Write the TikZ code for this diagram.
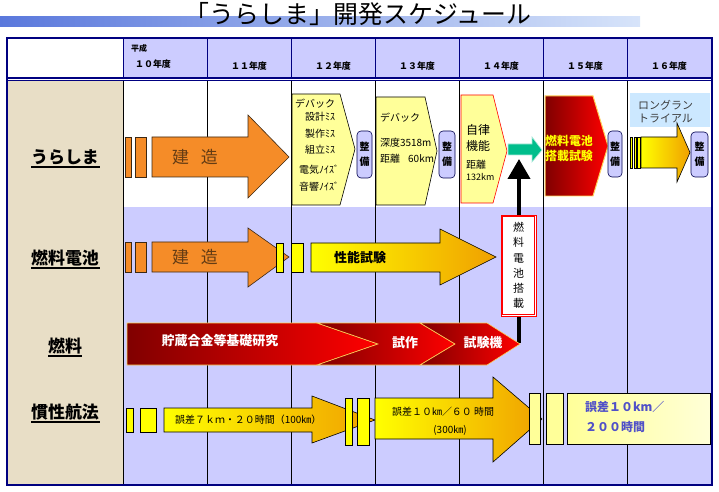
\documentclass[tikz,border=0pt]{standalone}
\usepackage{fontspec}
\setmainfont{Noto Sans CJK JP}
\usetikzlibrary{arrows.meta}
\definecolor{navyb}{RGB}{0,0,128}
\definecolor{lav}{RGB}{204,204,255}
\definecolor{parch}{RGB}{232,222,198}
\definecolor{orng}{RGB}{245,140,40}
\definecolor{paley}{RGB}{255,255,153}
\definecolor{paley2}{RGB}{255,255,215}
\definecolor{ylw}{RGB}{255,255,0}
\definecolor{amber}{RGB}{240,160,0}
\definecolor{dred}{RGB}{128,0,0}
\definecolor{brred}{RGB}{255,0,0}
\definecolor{tgreen}{RGB}{0,190,140}
\definecolor{lblue}{RGB}{204,232,255}
\definecolor{brownt}{RGB}{100,60,20}
\definecolor{bluet}{RGB}{80,80,200}
\definecolor{edgec}{RGB}{60,40,20}
\definecolor{goldl}{RGB}{255,210,90}
\definecolor{bandl}{RGB}{90,120,220}
\definecolor{bandr}{RGB}{215,228,250}
\definecolor{greyt}{RGB}{60,60,60}
\tikzset{
  fs/.style={inner sep=0, font=\fontsize{#1}{#1}\selectfont},
  lbl/.style={inner sep=0, font=\fontsize{17}{17}\selectfont\bfseries},
  hdr/.style={inner sep=0, font=\fontsize{9}{9}\selectfont\bfseries},
  txt/.style={inner sep=0, anchor=west, font=\fontsize{10}{10}\selectfont},
  orbar/.style={fill=orng, draw=edgec, line width=0.5},
  ybar/.style={fill=ylw, draw=black, line width=0.5},
  pbar/.style={fill=paley, draw=black, line width=0.5},
  orarrow/.style={fill=orng, draw=edgec, line width=0.6},
  grarrow/.style={left color=ylw, right color=amber, draw=black, line width=0.6},
  penta/.style={fill=paley, draw=black, line width=0.6},
  seibi/.style={fill=lav, draw=navyb!60!black, line width=0.6, rounded corners=4,
    inner sep=0, align=center, font=\fontsize{10}{15}\selectfont\bfseries},
  redseg/.style={left color=dred, right color=brred, draw=goldl, line width=0.6},
  wtxt/.style={inner sep=0, text=white, font=\fontsize{13}{13}\selectfont\bfseries},
  uline/.style={line width=1.2, draw=black},
}
\begin{document}
\begin{tikzpicture}[x=1bp,y=-1bp]
\useasboundingbox (0,0) rectangle (719,492);
% title
\shade[left color=bandl, right color=bandr] (0,17) rectangle (640,27);
\node[fs=25] (title) at (358,14) {「うらしま」開発スケジュール};
% table backgrounds
\fill[white] (8,38) rectangle (123,78);
\fill[lav] (123,38) rectangle (711,78);
\fill[parch] (8,80) rectangle (123,484);
\fill[white] (123,80) rectangle (711,207);
\fill[lav] (123,207) rectangle (711,484);
\foreach \x in {123,207,...,627} \draw[black, line width=0.8] (\x,80) -- (\x,484);
\foreach \x in {123,207,...,627} \draw[navyb, line width=0.8] (\x,38) -- (\x,78);
\draw[navyb, line width=1.5] (8,78) -- (711,78);
\draw[navyb, line width=0.6] (8,80.5) -- (711,80.5);
\draw[navyb, line width=2.5] (7,38) rectangle (712,485);
% header
\node[hdr, anchor=west, font=\fontsize{8}{8}\selectfont\bfseries] (h0) at (131,48) {平成};
\node[hdr] (h10) at (153,64) {１０年度};
\node[hdr] (h11) at (249,66) {１１年度};
\node[hdr] (h12) at (333,66) {１２年度};
\node[hdr] (h13) at (417,66) {１３年度};
\node[hdr] (h14) at (501,66) {１４年度};
\node[hdr] (h15) at (585,66) {１５年度};
\node[hdr] (h16) at (669,66) {１６年度};
% row labels
\node[lbl] (l1) at (65,157) {うらしま};
\node[lbl] (l2) at (65,258) {燃料電池};
\node[lbl] (l3) at (65,346) {燃料};
\node[lbl] (l4) at (65,412) {慣性航法};
\draw[uline] (31,167) -- (100,167);
\draw[uline] (31,268) -- (100,268);
\draw[uline] (48,356) -- (82,356);
\draw[uline] (31,422) -- (100,422);

% ===== row 1 =====
\draw[orbar] (125,137) rectangle (131,177);
\draw[orbar] (135,137) rectangle (146,177);
\draw[orarrow] (152,137) -- (248,137) -- (248,115) -- (289,157) -- (248,198) -- (248,177) -- (152,177) -- cycle;
\node[fs=17, text=brownt] (k1) at (195,157) {建\hspace{12bp}造};
\draw[penta] (292,94) -- (340,94) -- (355,149) -- (340,205) -- (292,205) -- cycle;
\node[txt] (d1) at (295,104) {デバック};
\node[txt] (d2) at (305,117) {設計ﾐｽ};
\node[txt] (d3) at (305,134) {製作ﾐｽ};
\node[txt] (d4) at (305,150) {組立ﾐｽ};
\node[txt] (d5) at (299,170) {電気ﾉｲｽﾞ};
\node[txt] (d6) at (299,187) {音響ﾉｲｽﾞ};
\node[seibi, minimum width=15bp, minimum height=47bp] (s1) at (364.5,154.5) {整\\備};
\draw[penta] (376,97) -- (425,97) -- (437,151) -- (425,205) -- (376,205) -- cycle;
\node[txt] (e1) at (380,118) {デバック};
\node[txt] (e2) at (380,143) {深度3518m};
\node[txt] (e3) at (380,159) {距離};
\node[txt] (e4) at (408,159) {60km};
\node[seibi, minimum width=16bp, minimum height=47bp] (s2) at (447,154.5) {整\\備};
\draw[penta, draw=red] (461,95) -- (493,95) -- (507,151) -- (493,203) -- (461,203) -- cycle;
\node[txt, font=\fontsize{12}{12}\selectfont] (f1) at (466,130) {自律};
\node[txt, font=\fontsize{12}{12}\selectfont] (f2) at (466,146) {機能};
\node[txt] (f3) at (466,165) {距離};
\node[txt, font=\fontsize{9}{9}\selectfont] (f4) at (466,177) {132km};
% black up arrow
\coordinate (ubase) at (519,343);
\coordinate (utip) at (519,159);
\draw[line width=4, -{Triangle[length=20bp, width=22bp]}] (ubase) -- (utip);
% green arrow
\draw[fill=tgreen, draw=white!70!tgreen, line width=0.6] (508,144) -- (532,144) -- (532,137) -- (542,150) -- (532,162) -- (532,155) -- (508,155) -- cycle;
% fuel cell test
\draw[left color=dred, right color=brred, draw=goldl, line width=1] (545,96) -- (593,96) -- (608,146) -- (593,196) -- (545,196) -- cycle;
\node[fs=12, text=ylw, font=\fontsize{12}{12}\selectfont\bfseries] (g1) at (569,141) {燃料電池};
\node[fs=12, text=ylw, font=\fontsize{12}{12}\selectfont\bfseries] (g2) at (569,156) {搭載試験};
\node[seibi, minimum width=14bp, minimum height=46bp] (s3) at (615,154) {整\\備};
% long run
\fill[lblue] (630,93) rectangle (710,127);
\node[txt, text=greyt, font=\fontsize{11}{11}\selectfont] (lr1) at (638,105) {ロングラン};
\node[txt, text=greyt, font=\fontsize{11}{11}\selectfont] (lr2) at (638,118) {トライアル};
\draw[ybar, line width=0.4] (630,137) rectangle (632.5,168);
\draw[ybar, line width=0.4] (633.7,137) rectangle (636.2,168);
\draw[ybar, line width=0.4] (637.4,137) rectangle (640,168);
\draw[grarrow] (641,137) -- (677,137) -- (677,123) -- (690,152.5) -- (677,182) -- (677,168) -- (641,168) -- cycle;
\node[seibi, minimum width=17bp, minimum height=45bp] (s4) at (699.5,154.5) {整\\備};

% ===== row 2 =====
\draw[orbar] (125,242) rectangle (131,272);
\draw[orbar] (135,242) rectangle (146,272);
\draw[orarrow] (152,242) -- (248,242) -- (248,228) -- (289,257) -- (248,287) -- (248,272) -- (152,272) -- cycle;
\node[fs=17, text=brownt] (k2) at (195,257) {建\hspace{12bp}造};
\draw[ybar] (276,243) rectangle (283,272);
\draw[ybar] (291,243) rectangle (303,272);
\draw[grarrow] (311,243) -- (440,243) -- (440,229) -- (496,257) -- (440,285) -- (440,272) -- (311,272) -- cycle;
\node[txt, font=\fontsize{13}{13}\selectfont\bfseries] (p1) at (334,258) {性能試験};
% fuel cell mounting box
\node[draw=red, fill=white, line width=0.9,
  minimum width=35bp, minimum height=101bp, inner sep=0, align=center,
  font=\fontsize{11}{15.3}\selectfont] (mount) at (518.5,265.5) {燃\\料\\電\\池\\搭\\載};
\draw[red, line width=0.6] ([shift={(2.2bp,-2.2bp)}]mount.north west) rectangle ([shift={(-2.2bp,2.2bp)}]mount.south east);

% ===== row 3 =====
\draw[redseg] (127,323) -- (317,323) -- (378,344) -- (317,365) -- (127,365) -- cycle;
\draw[redseg] (317,323) -- (420,323) -- (455,344) -- (420,365) -- (317,365) -- (378,344) -- cycle;
\draw[redseg] (420,323) -- (487,323) -- (520,344) -- (487,365) -- (420,365) -- (455,344) -- cycle;
\node[wtxt] (r1) at (220,341) {貯蔵合金等基礎研究};
\node[wtxt] (r2) at (405,343) {試作};
\node[wtxt] (r3) at (483,343) {試験機};

% ===== row 4 =====
\draw[ybar] (126,408) rectangle (133,432);
\draw[ybar] (140,408) rectangle (156,432);
\draw[grarrow] (164,408) -- (312,408) -- (312,396) -- (375,420) -- (312,443) -- (312,432) -- (164,432) -- cycle;
\node[txt] (i1) at (175,420) {誤差７ｋｍ・２０時間（100㎞）};
\draw[ybar] (345,398) rectangle (352,445);
\draw[ybar] (357,398) rectangle (369,445);
\draw[grarrow] (375,398) -- (493,398) -- (493,377) -- (542,419) -- (493,462) -- (493,439) -- (375,439) -- cycle;
\node[txt] (i2) at (392,412) {誤差１０㎞／６０ 時間};
\node[fs=10] (i3) at (450,430) {(300㎞)};
\draw[pbar] (529,393) rectangle (540,444);
\draw[pbar] (546,393) rectangle (563,444);
\draw[left color=paley, right color=paley2, draw=black, line width=0.5] (567,393) rectangle (710,444);
\node[txt, text=bluet, font=\fontsize{12}{12}\selectfont\bfseries] (j1) at (585,407) {誤差１０km／};
\node[txt, text=bluet, font=\fontsize{12}{12}\selectfont\bfseries] (j2) at (585,427) {２００時間};
\end{tikzpicture}
\end{document}
